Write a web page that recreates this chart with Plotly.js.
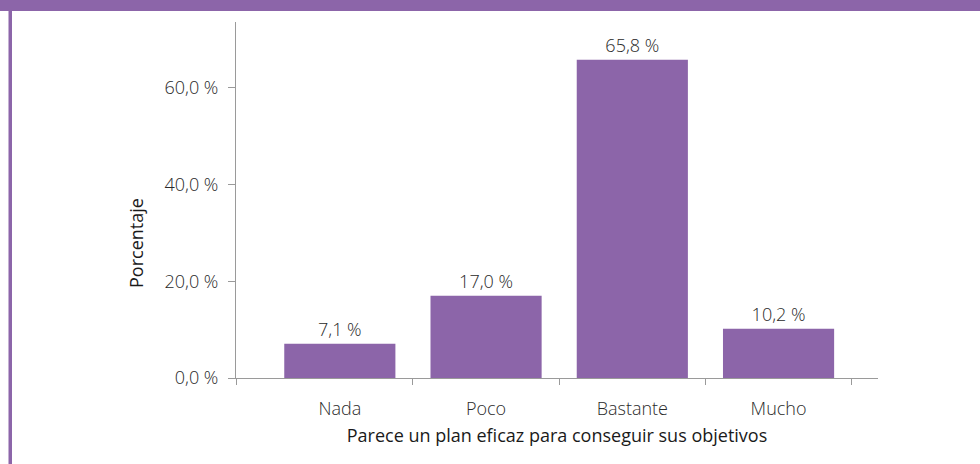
<!DOCTYPE html>
<html>
<head>
<meta charset="utf-8">
<script src="https://cdn.plot.ly/plotly-3.0.1.min.js"></script>
<style>
html,body{margin:0;padding:0;background:#fff;}
#chart{width:980px;height:464px;}
</style>
</head>
<body>
<div id="chart"></div>
<script>
const categories = ["Nada", "Poco", "Bastante", "Mucho"];
const values = [7.1, 17.0, 65.8, 10.2];
const yTickVals = [0, 20, 40, 60];
const yTickText = ["0,0 %", "20,0 %", "40,0 %", "60,0 %"];
const xTitle = "Parece un plan eficaz para conseguir sus objetivos";
const yTitle = "Porcentaje";

const W = 980, H = 464;
const L = 236, R = 102, T = 22, B = 86;
const pw = W - L - R, ph = H - T - B;
const px = x => (x - L) / pw;
const py = y => (H - B - y) / ph;

const purple = "#8c65a9";
const FONT = "'Open Sans', Lato, sans-serif";
const TXT = "#2a2a2a";
const xIdx = categories.map((c, i) => i);
const labels = values.map(v => v.toFixed(1).replace(".", ",") + " %");
const xRange = [-0.71, 3.68];

const trace = {
  type: "bar",
  x: xIdx,
  y: values,
  width: 0.76,
  marker: {color: purple},
  text: labels,
  textposition: "outside",
  cliponaxis: false,
  textfont: {family: FONT, size: 18, color: TXT, weight: 300},
  hoverinfo: "none"
};

const layout = {
  width: W, height: H,
  margin: {l: L, r: R, t: T, b: B, pad: 0},
  paper_bgcolor: "#fff",
  plot_bgcolor: "#fff",
  showlegend: false,
  font: {family: FONT, size: 18, color: TXT, weight: 300},
  xaxis: {
    range: xRange,
    tickmode: "array",
    tickvals: xIdx,
    ticktext: categories,
    ticks: "",
    ticklabelstandoff: 14,
    showgrid: false,
    zeroline: false,
    showline: true,
    linecolor: "#9a9a9a",
    linewidth: 1,
    tickfont: {family: FONT, size: 18, color: TXT, weight: 300},
    minor: {
      tickmode: "array",
      tickvals: [xRange[0], 0.5, 1.5, 2.5, 3.5],
      ticks: "outside",
      ticklen: 6,
      tickwidth: 1,
      tickcolor: "#9a9a9a",
      showgrid: false
    },
    title: {text: xTitle, font: {family: FONT, size: 18, color: "#1a1a1a", weight: 400}, standoff: 10}
  },
  yaxis: {
    range: [0, 73.6],
    tickmode: "array",
    tickvals: yTickVals,
    ticktext: yTickText,
    ticks: "outside",
    ticklen: 7,
    tickcolor: "#9a9a9a",
    ticklabelstandoff: 6,
    showgrid: false,
    zeroline: false,
    showline: true,
    linecolor: "#9a9a9a",
    linewidth: 1,
    tickfont: {family: FONT, size: 18, color: TXT, weight: 300}
  },
  annotations: [{
    text: yTitle, textangle: -90,
    xref: "paper", yref: "paper",
    x: px(136), y: py(243),
    xanchor: "center", yanchor: "middle",
    showarrow: false,
    font: {family: FONT, size: 18, color: "#1a1a1a", weight: 400}
  }],
  shapes: [
    {type: "rect", xref: "paper", yref: "paper", x0: px(0), x1: px(W), y0: py(11), y1: py(0),
     fillcolor: purple, line: {width: 0}, layer: "above"},
    {type: "rect", xref: "paper", yref: "paper", x0: px(8.5), x1: px(12), y0: py(H), y1: py(11),
     fillcolor: purple, line: {width: 0}, layer: "above"}
  ]
};

Plotly.newPlot("chart", [trace], layout, {displayModeBar: false, staticPlot: true});
</script>
</body>
</html>
